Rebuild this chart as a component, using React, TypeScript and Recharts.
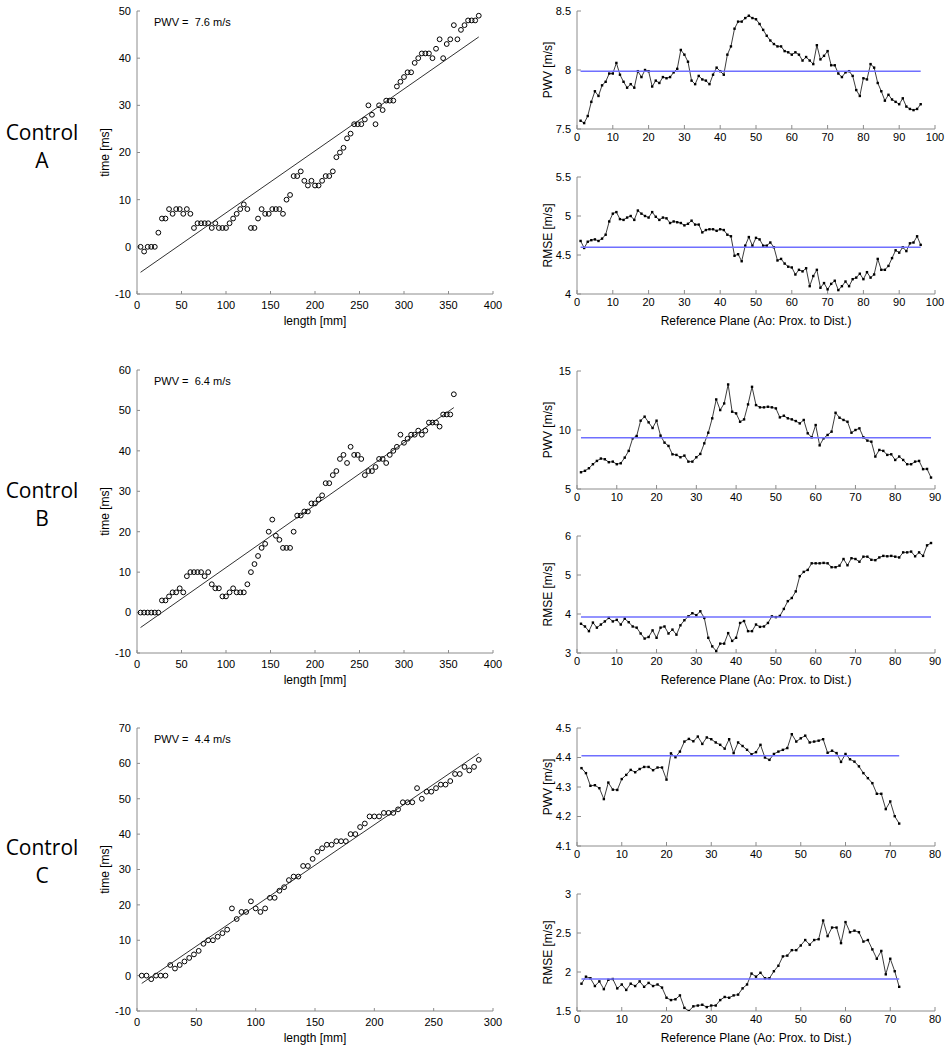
import React from 'react'
import { ScatterChart, Scatter, XAxis, YAxis } from 'recharts'

const FONT = '"Liberation Sans", Arial, Helvetica, sans-serif'
const AXIS = '#8c8c8c'
const MEAN = '#6f6fff'

// reference planes are 4 mm apart along the aortic centerline
const sliceSpacingMm = 4

// ---- Control A ----
const timeA = [
  0, -1, 0, 0, 0, 3, 6, 6, 8, 7, 8, 8, 7, 8, 7, 4, 5, 5, 5, 5, 4, 5, 4, 4, 4, 5, 6, 7, 8, 9, 8, 4, 4, 6, 8, 7,
  7, 8, 8, 8, 7, 10, 11, 15, 15, 16, 14, 13, 14, 13, 13, 14, 15, 15, 16, 19, 20, 21, 23, 24, 26, 26, 26, 27,
  30, 28, 26, 30, 29, 31, 31, 31, 34, 35, 36, 37, 37, 39, 40, 41, 41, 41, 40, 42, 44, 40, 43, 44, 47, 44, 46,
  47, 48, 48, 48, 49,
]
const fitA = [-5.4, 44.5] // fitted time at first / last plane
const pwvTextA = '7.6'
const pwvA = [
  7.57, 7.55, 7.61, 7.73, 7.82, 7.78, 7.87, 7.9, 7.97, 7.97, 8.06, 7.96, 7.9, 7.85, 7.88, 7.85, 7.99, 7.94, 8.0,
  7.99, 7.86, 7.91, 7.89, 7.94, 7.93, 7.94, 7.98, 8.01, 8.17, 8.13, 8.07, 7.91, 7.88, 7.95, 7.92, 7.91, 7.88,
  7.96, 8.02, 7.99, 7.96, 8.13, 8.2, 8.35, 8.41, 8.41, 8.44, 8.46, 8.44, 8.43, 8.39, 8.34, 8.29, 8.25, 8.22,
  8.2, 8.2, 8.16, 8.15, 8.13, 8.15, 8.13, 8.08, 8.11, 8.08, 8.05, 8.21, 8.09, 8.12, 8.16, 8.04, 8.04, 7.97,
  7.94, 7.98, 7.99, 7.95, 7.83, 7.78, 7.93, 7.92, 8.05, 8.02, 7.89, 7.82, 7.74, 7.79, 7.75, 7.73, 7.71, 7.76,
  7.69, 7.67, 7.66, 7.67, 7.71,
]
const pwvMeanA = 7.99
const rmseA = [
  4.68, 4.59, 4.67, 4.69, 4.7, 4.68, 4.71, 4.76, 4.93, 5.03, 5.05, 4.96, 4.95, 4.98, 5.0, 4.95, 5.07, 5.03, 5.0,
  4.98, 5.05, 4.99, 4.95, 4.98, 4.97, 4.91, 4.93, 4.92, 4.91, 4.88, 4.9, 4.94, 4.89, 4.89, 4.79, 4.82, 4.83,
  4.83, 4.81, 4.83, 4.82, 4.76, 4.74, 4.49, 4.51, 4.42, 4.62, 4.73, 4.62, 4.72, 4.7, 4.62, 4.62, 4.66, 4.6,
  4.43, 4.45, 4.39, 4.35, 4.34, 4.25, 4.31, 4.29, 4.33, 4.1, 4.23, 4.31, 4.08, 4.14, 4.06, 4.13, 4.17, 4.05,
  4.1, 4.16, 4.1, 4.19, 4.21, 4.26, 4.19, 4.28, 4.21, 4.25, 4.45, 4.31, 4.31, 4.36, 4.46, 4.56, 4.53, 4.6,
  4.55, 4.65, 4.66, 4.74, 4.63,
]
const rmseMeanA = 4.6

// ---- Control B ----
const timeB = [
  0, 0, 0, 0, 0, 0, 3, 3, 4, 5, 5, 6, 5, 9, 10, 10, 10, 10, 9, 10, 7, 6, 6, 4, 4, 5, 6, 5, 5, 5, 7, 10, 12, 14,
  16, 17, 20, 23, 19, 18, 16, 16, 16, 20, 24, 24, 25, 25, 27, 27, 28, 29, 32, 32, 34, 35, 38, 39, 37, 41, 39,
  39, 38, 34, 35, 35, 36, 38, 38, 37, 39, 40, 41, 44, 42, 43, 44, 44, 45, 44, 45, 47, 47, 47, 46, 49, 49, 49,
  54,
]
const fitB = [-3.7, 50.7]
const pwvTextB = '6.4'
const pwvB = [
  6.42, 6.54, 6.76, 7.1, 7.38, 7.58, 7.52, 7.27, 7.32, 7.1, 7.18, 7.66, 8.23, 9.3, 9.49, 10.79, 11.13, 10.65,
  10.17, 10.79, 9.52, 8.93, 8.65, 7.94, 7.89, 7.69, 7.83, 7.32, 7.32, 7.69, 7.97, 8.87, 9.77, 10.99, 12.59,
  11.69, 12.25, 13.86, 11.55, 11.41, 10.7, 10.9, 12.17, 13.66, 12.11, 11.92, 11.92, 11.97, 11.92, 11.83, 11.07,
  11.21, 10.99, 10.9, 10.76, 10.56, 10.85, 9.72, 9.38, 10.42, 8.7, 9.3, 9.58, 9.86, 11.46, 11.04, 10.85, 10.7,
  9.77, 10.0, 10.14, 9.38, 9.1, 9.01, 7.75, 8.31, 8.23, 7.89, 7.94, 7.46, 7.75, 7.46, 7.1, 7.1, 7.32, 7.38,
  6.68, 6.7, 5.97,
]
const pwvMeanB = 9.35
const rmseB = [
  3.75, 3.68, 3.56, 3.78, 3.65, 3.73, 3.81, 3.9, 3.81, 3.85, 3.73, 3.88, 3.79, 3.68, 3.65, 3.5, 3.37, 3.41,
  3.58, 3.39, 3.65, 3.68, 3.5, 3.6, 3.47, 3.71, 3.84, 3.94, 4.02, 3.97, 4.07, 3.9, 3.39, 3.17, 3.05, 3.24, 3.24,
  3.51, 3.31, 3.39, 3.77, 3.82, 3.56, 3.56, 3.73, 3.67, 3.68, 3.77, 3.94, 3.92, 3.95, 4.13, 4.33, 4.41, 4.58,
  4.97, 5.08, 5.13, 5.3, 5.3, 5.3, 5.31, 5.3, 5.2, 5.2, 5.24, 5.41, 5.25, 5.43, 5.41, 5.34, 5.47, 5.47, 5.39,
  5.38, 5.45, 5.49, 5.48, 5.49, 5.47, 5.45, 5.58, 5.58, 5.6, 5.48, 5.58, 5.49, 5.76, 5.82,
]
const rmseMeanB = 3.92

// ---- Control C ----
const timeC = [
  0, 0, -1, 0, 0, 0, 3, 2, 3, 4, 5, 6, 7, 9, 10, 10, 11, 12, 13, 19, 16, 18, 18, 21, 19, 18, 19, 22, 22, 24, 25,
  27, 28, 28, 31, 31, 33, 35, 36, 37, 37, 38, 38, 38, 40, 40, 42, 43, 45, 45, 45, 46, 46, 46, 47, 49, 49, 49,
  53, 50, 52, 52, 53, 54, 54, 55, 57, 57, 59, 58, 59, 61,
]
const fitC = [-2.2, 62.8]
const pwvTextC = '4.4'
const pwvC = [
  4.364, 4.347, 4.304, 4.306, 4.296, 4.259, 4.315, 4.291, 4.29, 4.327, 4.341, 4.358, 4.35, 4.361, 4.368, 4.368,
  4.357, 4.366, 4.366, 4.325, 4.414, 4.401, 4.42, 4.454, 4.463, 4.455, 4.471, 4.446, 4.468, 4.462, 4.451,
  4.443, 4.43, 4.462, 4.415, 4.451, 4.439, 4.426, 4.411, 4.418, 4.443, 4.4, 4.392, 4.412, 4.42, 4.426, 4.432,
  4.479, 4.454, 4.465, 4.474, 4.451, 4.454, 4.457, 4.462, 4.416, 4.423, 4.415, 4.385, 4.412, 4.394, 4.386,
  4.37, 4.347, 4.33, 4.313, 4.277, 4.277, 4.225, 4.251, 4.201, 4.176,
]
const pwvMeanC = 4.406
const rmseC = [
  1.85, 1.94, 1.92, 1.82, 1.88, 1.78, 1.9, 1.91, 1.79, 1.84, 1.77, 1.85, 1.82, 1.88, 1.81, 1.86, 1.82, 1.84,
  1.8, 1.67, 1.64, 1.65, 1.7, 1.54, 1.5, 1.56, 1.57, 1.58, 1.55, 1.57, 1.57, 1.64, 1.68, 1.67, 1.7, 1.71, 1.79,
  1.84, 1.98, 1.94, 1.99, 1.92, 1.92, 2.01, 2.08, 2.2, 2.21, 2.28, 2.28, 2.34, 2.41, 2.35, 2.41, 2.42, 2.66,
  2.46, 2.57, 2.57, 2.37, 2.64, 2.51, 2.53, 2.51, 2.39, 2.41, 2.29, 2.17, 2.27, 1.97, 2.17, 2.01, 1.81,
]
const rmseMeanC = 1.91

// ---- ticks ----
const lengthTicksAB = [0, 50, 100, 150, 200, 250, 300, 350, 400]
const lengthTicksC = [0, 50, 100, 150, 200, 250, 300]
const timeTicksA = [-10, 0, 10, 20, 30, 40, 50]
const timeTicksB = [-10, 0, 10, 20, 30, 40, 50, 60]
const timeTicksC = [-10, 0, 10, 20, 30, 40, 50, 60, 70]
const planeTicksA = [0, 10, 20, 30, 40, 50, 60, 70, 80, 90, 100]
const planeTicksB = [0, 10, 20, 30, 40, 50, 60, 70, 80, 90]
const planeTicksC = [0, 10, 20, 30, 40, 50, 60, 70, 80]
const pwvTicksA = [7.5, 8, 8.5]
const rmseTicksA = [4, 4.5, 5, 5.5]
const pwvTicksB = [5, 10, 15]
const rmseTicksB = [3, 4, 5, 6]
const pwvTicksC = [4.1, 4.2, 4.3, 4.4, 4.5]
const rmseTicksC = [1.5, 2, 2.5, 3]

const planeLabel = 'Reference Plane (Ao: Prox. to Dist.)'

const planeNumbers = (n: number) => Array.from({ length: n }, (_, i) => i + 1)
const pairs = (xs: number[], ys: number[]) => ys.map((y, i) => ({ x: xs[i], y }))
const lengthsFor = (n: number) => planeNumbers(n).map((p) => p * sliceSpacingMm)

const noMarker = () => <g />
const openCircle = (p: any) => <circle cx={p.cx} cy={p.cy} r={2.4} fill="none" stroke="#000" strokeWidth={1} />
const smallSquare = (p: any) => <rect x={p.cx - 1.2} y={p.cy - 1.2} width={2.4} height={2.4} fill="#000" />

type Box = { x: number; y: number; w: number; h: number }

const PAD_L = 60
const PAD_T = 8
const PAD_R = 12
const PAD_B = 40
const AXIS_W = 40
const AXIS_H = 34

function Panel(props: {
  plot: Box
  xDomain: [number, number]
  xTicks: number[]
  yDomain: [number, number]
  yTicks: number[]
  xLabel?: string
  yLabel: string
  yLabelOffset: number
  box: boolean
  tickLen: number
  xTickMargin: number
  yTickMargin: number
  children: React.ReactNode
}) {
  const { plot, box, tickLen } = props
  const tickStyle = { fill: '#000', fontSize: 11, fontFamily: FONT }
  return (
    <div style={{ position: 'absolute', left: plot.x - PAD_L, top: plot.y - PAD_T }}>
      <ScatterChart
        width={plot.w + PAD_L + PAD_R}
        height={plot.h + PAD_T + PAD_B}
        margin={{ top: PAD_T, right: PAD_R, bottom: PAD_B - AXIS_H, left: PAD_L - AXIS_W }}
      >
        <XAxis
          type="number"
          dataKey="x"
          domain={props.xDomain}
          ticks={props.xTicks}
          interval={0}
          allowDataOverflow
          height={AXIS_H}
          stroke={AXIS}
          tickSize={-tickLen}
          tickMargin={props.xTickMargin}
          tick={tickStyle}
          label={
            props.xLabel
              ? { value: props.xLabel, position: 'insideBottom', offset: 3, fill: '#000', fontSize: 12, fontFamily: FONT }
              : undefined
          }
        />
        <YAxis
          type="number"
          dataKey="y"
          domain={props.yDomain}
          ticks={props.yTicks}
          interval={0}
          allowDataOverflow
          width={AXIS_W}
          stroke={AXIS}
          tickSize={-tickLen}
          tickMargin={props.yTickMargin}
          tick={tickStyle}
          label={{
            value: props.yLabel,
            angle: -90,
            position: 'insideLeft',
            offset: props.yLabelOffset,
            fill: '#000',
            fontSize: 12,
            fontFamily: FONT,
            style: { textAnchor: 'middle' },
          }}
        />
        {box && (
          <XAxis
            xAxisId="top"
            orientation="top"
            type="number"
            domain={props.xDomain}
            ticks={props.xTicks}
            interval={0}
            allowDataOverflow
            height={0}
            stroke={AXIS}
            tickSize={-tickLen}
            tick={false}
          />
        )}
        {box && (
          <YAxis
            yAxisId="right"
            orientation="right"
            type="number"
            domain={props.yDomain}
            ticks={props.yTicks}
            interval={0}
            allowDataOverflow
            width={0}
            stroke={AXIS}
            tickSize={-tickLen}
            tick={false}
          />
        )}
        {props.children}
      </ScatterChart>
    </div>
  )
}

function LengthPanel(props: {
  plot: Box
  times: number[]
  fit: number[]
  xMax: number
  xTicks: number[]
  yTicks: number[]
  pwvText: string
}) {
  const { plot, times, fit } = props
  const lengths = lengthsFor(times.length)
  const fitLine = pairs([lengths[0], lengths[lengths.length - 1]], fit)
  return (
    <>
      <Panel
        plot={plot}
        xDomain={[0, props.xMax]}
        xTicks={props.xTicks}
        yDomain={[props.yTicks[0], props.yTicks[props.yTicks.length - 1]]}
        yTicks={props.yTicks}
        xLabel="length [mm]"
        yLabel="time [ms]"
        yLabelOffset={8}
        box={false}
        tickLen={3}
        xTickMargin={10}
        yTickMargin={9}
      >
        <Scatter data={pairs(lengths, times)} shape={openCircle} isAnimationActive={false} />
        <Scatter
          data={fitLine}
          shape={noMarker}
          line={{ stroke: '#1a1a1a', strokeWidth: 0.9 }}
          isAnimationActive={false}
        />
      </Panel>
      <div
        style={{
          position: 'absolute',
          left: plot.x + 17,
          top: plot.y + 6,
          fontFamily: FONT,
          fontSize: 11,
          lineHeight: '11px',
          whiteSpace: 'pre',
          color: '#000',
        }}
      >
        {`PWV =  ${props.pwvText} m/s`}
      </div>
    </>
  )
}

function PlanePanel(props: {
  plot: Box
  values: number[]
  mean: number
  xMax: number
  xTicks: number[]
  yTicks: number[]
  yLabel: string
  xLabel?: string
}) {
  const { values } = props
  const planes = planeNumbers(values.length)
  const meanLine = pairs([planes[0], planes[planes.length - 1]], [props.mean, props.mean])
  return (
    <Panel
      plot={props.plot}
      xDomain={[0, props.xMax]}
      xTicks={props.xTicks}
      yDomain={[props.yTicks[0], props.yTicks[props.yTicks.length - 1]]}
      yTicks={props.yTicks}
      xLabel={props.xLabel}
      yLabel={props.yLabel}
      yLabelOffset={11}
      box
      tickLen={4}
      xTickMargin={8}
      yTickMargin={10}
    >
      <Scatter
        data={pairs(planes, values)}
        shape={smallSquare}
        line={{ stroke: '#3c3c3c', strokeWidth: 1 }}
        isAnimationActive={false}
      />
      <Scatter data={meanLine} shape={noMarker} line={{ stroke: MEAN, strokeWidth: 1.5 }} isAnimationActive={false} />
    </Panel>
  )
}

function GroupLabel({ name, top }: { name: string; top: number }) {
  return (
    <div
      style={{
        position: 'absolute',
        left: -3,
        top,
        width: 90,
        textAlign: 'center',
        fontFamily: '"Open Sans", "Noto Sans", sans-serif',
        fontSize: 21,
        lineHeight: '28px',
        color: '#000',
      }}
    >
      Control
      <br />
      {name}
    </div>
  )
}

const LEFT_X = 137
const LEFT_W = 356
const LEFT_H = 283
const RIGHT_X = 577
const RIGHT_W = 358

export default function App() {
  return (
    <div style={{ position: 'absolute', left: 0, top: 0, width: 951, height: 1050, background: '#fff', overflow: 'hidden' }}>
      <GroupLabel name="A" top={118} />
      <GroupLabel name="B" top={476} />
      <GroupLabel name="C" top={833} />

      <LengthPanel
        plot={{ x: LEFT_X, y: 11, w: LEFT_W, h: LEFT_H }}
        times={timeA}
        fit={fitA}
        xMax={400}
        xTicks={lengthTicksAB}
        yTicks={timeTicksA}
        pwvText={pwvTextA}
      />
      <LengthPanel
        plot={{ x: LEFT_X, y: 370, w: LEFT_W, h: LEFT_H }}
        times={timeB}
        fit={fitB}
        xMax={400}
        xTicks={lengthTicksAB}
        yTicks={timeTicksB}
        pwvText={pwvTextB}
      />
      <LengthPanel
        plot={{ x: LEFT_X, y: 728, w: LEFT_W, h: LEFT_H }}
        times={timeC}
        fit={fitC}
        xMax={300}
        xTicks={lengthTicksC}
        yTicks={timeTicksC}
        pwvText={pwvTextC}
      />

      <PlanePanel plot={{ x: RIGHT_X, y: 11, w: RIGHT_W, h: 118 }} values={pwvA} mean={pwvMeanA} xMax={100} xTicks={planeTicksA} yTicks={pwvTicksA} yLabel="PWV [m/s]" />
      <PlanePanel plot={{ x: RIGHT_X, y: 177, w: RIGHT_W, h: 117 }} values={rmseA} mean={rmseMeanA} xMax={100} xTicks={planeTicksA} yTicks={rmseTicksA} yLabel="RMSE [m/s]" xLabel={planeLabel} />
      <PlanePanel plot={{ x: RIGHT_X, y: 371, w: RIGHT_W, h: 118 }} values={pwvB} mean={pwvMeanB} xMax={90} xTicks={planeTicksB} yTicks={pwvTicksB} yLabel="PWV [m/s]" />
      <PlanePanel plot={{ x: RIGHT_X, y: 536, w: RIGHT_W, h: 117 }} values={rmseB} mean={rmseMeanB} xMax={90} xTicks={planeTicksB} yTicks={rmseTicksB} yLabel="RMSE [m/s]" xLabel={planeLabel} />
      <PlanePanel plot={{ x: RIGHT_X, y: 728, w: RIGHT_W, h: 118 }} values={pwvC} mean={pwvMeanC} xMax={80} xTicks={planeTicksC} yTicks={pwvTicksC} yLabel="PWV [m/s]" />
      <PlanePanel plot={{ x: RIGHT_X, y: 894, w: RIGHT_W, h: 117 }} values={rmseC} mean={rmseMeanC} xMax={80} xTicks={planeTicksC} yTicks={rmseTicksC} yLabel="RMSE [m/s]" xLabel={planeLabel} />
    </div>
  )
}
